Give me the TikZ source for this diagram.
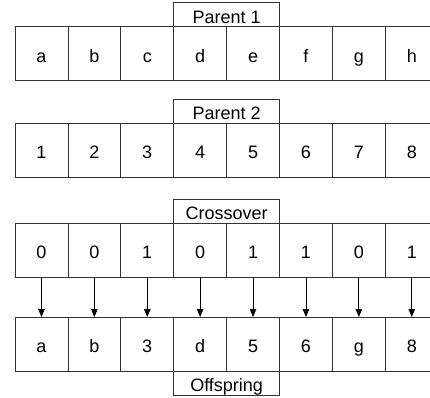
\documentclass[tikz,border=0pt]{standalone}
\usepackage{fontspec}
\setmainfont{Liberation Sans}
\usetikzlibrary{arrows.meta,positioning}
\definecolor{cellline}{HTML}{333333}
\tikzset{
  >={Triangle[length=8pt,width=6.5pt]},
  % celler
  gene/.style={draw=cellline,line width=0.8pt,minimum width=52.9pt,
               minimum height=54pt,inner sep=0pt,outer sep=0pt,
               text height=17pt,text depth=0pt,
               font=\fontsize{18}{21}\selectfont},
  tag/.style={draw=cellline,line width=0.8pt,minimum width=105.8pt,
              minimum height=24pt,inner sep=0pt,outer sep=0pt,
              text height=17pt,text depth=0pt,
              font=\fontsize{18}{21}\selectfont},
  % pilar
  pick/.style={->,draw=black,line width=0.8pt},
}
\begin{document}
\begin{tikzpicture}[x=1pt,y=-1pt]
  \useasboundingbox (0,0) rectangle (430,397);
  \foreach \t [count=\i] in {a,b,c,d,e,f,g,h}
    \node[gene] (pa\i) at ({15+52.9*(\i-0.5)},53.5) {\t};
  \foreach \t [count=\i] in {1,2,3,4,5,6,7,8}
    \node[gene] (pb\i) at ({15+52.9*(\i-0.5)},150) {\t};
  \foreach \t [count=\i] in {0,0,1,0,1,1,0,1}
    \node[gene] (cx\i) at ({15+52.9*(\i-0.5)},250) {\t};
  \foreach \t [count=\i] in {a,b,3,d,5,6,g,8}
    \node[gene] (off\i) at ({15+52.9*(\i-0.5)},344) {\t};
  \node[tag,anchor=south] (lpa) at (pa4.north east) {Parent 1};
  \node[tag,anchor=south] (lpb) at (pb4.north east) {Parent 2};
  \node[tag,anchor=south] (lcx) at (cx4.north east) {Crossover};
  \node[tag,anchor=north] (loff) at (off4.south east) {Offspring};
  \foreach \i in {1,...,8}
    \draw[pick] (cx\i) -- (off\i);
\end{tikzpicture}
\end{document}
